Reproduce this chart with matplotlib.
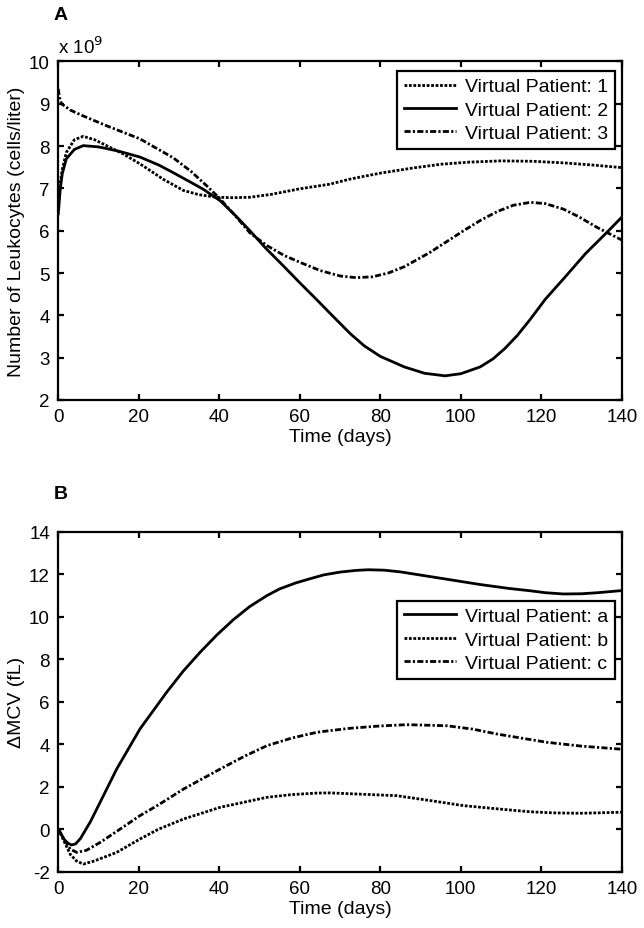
import numpy as np
import matplotlib.pyplot as plt

plt.rcParams['font.family'] = ['Liberation Sans', 'DejaVu Sans']
plt.rcParams['axes.unicode_minus'] = False

# panel A: leukocytes (x 10^9 cells/liter)
t_p1 = [0, 0.5, 1, 2, 4, 6.2, 9, 12, 16, 20.3, 26, 31.1, 35, 39.4, 43.5, 47.6, 53, 60, 67.5, 72.5, 80, 88, 95, 102, 110, 118, 126, 133, 140]
leuk_p1 = [6.6, 7.15, 7.45, 7.85, 8.15, 8.23, 8.15, 8.01, 7.82, 7.58, 7.22, 6.95, 6.85, 6.79, 6.78, 6.79, 6.86, 6.99, 7.10, 7.22, 7.36, 7.48, 7.57, 7.62, 7.65, 7.64, 7.60, 7.55, 7.49]

t_p2 = [0, 0.5, 1, 2, 4, 6.2, 10, 15, 20.3, 25, 28, 32.8, 36, 40.2, 44, 47.6, 51.5, 55.9, 60, 64.2, 67.5, 72.5, 76, 80, 86, 91, 96.1, 100, 104.8, 108, 111, 114, 117.3, 121, 125.5, 131, 136.3, 140]
leuk_p2 = [6.4, 7.0, 7.35, 7.7, 7.92, 8.01, 7.98, 7.88, 7.74, 7.55, 7.40, 7.15, 6.98, 6.71, 6.36, 6.0, 5.59, 5.17, 4.77, 4.37, 4.05, 3.57, 3.28, 3.03, 2.78, 2.63, 2.57, 2.62, 2.78, 2.97, 3.22, 3.52, 3.91, 4.38, 4.86, 5.46, 5.96, 6.32]

t_p3 = [0, 0.3, 0.8, 3, 6, 12, 20.3, 28.6, 33, 37, 40.2, 44, 47.6, 51.8, 56, 60.1, 65, 70, 74, 78, 82, 86, 92.4, 100.7, 105, 109, 113, 117.3, 121, 125.5, 129.5, 133.8, 140]
leuk_p3 = [9.35, 9.15, 9.0, 8.85, 8.72, 8.48, 8.17, 7.72, 7.40, 7.05, 6.75, 6.35, 5.95, 5.65, 5.42, 5.25, 5.06, 4.93, 4.89, 4.91, 5.0, 5.15, 5.49, 6.0, 6.25, 6.45, 6.6, 6.67, 6.64, 6.51, 6.32, 6.08, 5.78]

# panel B: delta MCV (fL)
t_a = [0, 1.5, 2.5, 3.3, 4.3, 5.5, 8, 10.4, 14.5, 20.3, 26.9, 31, 35.2, 39.5, 43.5, 47.5, 51.8, 55, 59, 62.6, 66, 70, 74, 77, 81, 85, 95, 105, 112, 117.3, 121, 125.5, 130, 134, 140]
mcv_a = [0, -0.5, -0.68, -0.75, -0.7, -0.45, 0.35, 1.26, 2.82, 4.71, 6.43, 7.42, 8.31, 9.15, 9.85, 10.46, 10.98, 11.30, 11.58, 11.78, 11.96, 12.09, 12.17, 12.2, 12.18, 12.1, 11.8, 11.5, 11.32, 11.21, 11.12, 11.06, 11.07, 11.12, 11.22]

t_b = [0, 1.5, 3, 4.5, 6.2, 9, 14.5, 20.3, 25, 31.1, 40.2, 51.8, 58, 64.2, 67.5, 72.5, 84, 92, 100.7, 109, 117.3, 123, 129.6, 134, 140]
mcv_b = [0, -0.6, -1.2, -1.5, -1.65, -1.5, -1.10, -0.47, 0.0, 0.47, 1.02, 1.49, 1.62, 1.69, 1.70, 1.66, 1.57, 1.35, 1.10, 0.95, 0.81, 0.76, 0.74, 0.76, 0.79]

t_c = [0, 1.5, 3, 4.6, 7, 10.4, 15, 20.3, 25, 31.1, 40.2, 46, 51.8, 58, 64.2, 67.5, 72.5, 80, 86.6, 96.5, 103, 109, 115, 121.4, 130, 139.6, 140]
mcv_c = [0, -0.5, -0.95, -1.10, -1.0, -0.63, -0.05, 0.63, 1.15, 1.88, 2.82, 3.40, 3.92, 4.28, 4.55, 4.63, 4.74, 4.85, 4.91, 4.86, 4.70, 4.47, 4.28, 4.08, 3.90, 3.76, 3.76]

xticks = [0, 20, 40, 60, 80, 100, 120, 140]

DOT = (1.0, 0.6)
DASHDOT = (2.2, 0.8, 0.8, 0.8)
FS = 14

fig = plt.figure(figsize=(6.44, 9.29), dpi=100)
axA = fig.add_axes([0.0905, 0.5684, 0.875, 0.3644])
axB = fig.add_axes([0.0905, 0.0608, 0.875, 0.366])


def style_axes(ax):
    for s in ax.spines.values():
        s.set_linewidth(1.6)
    ax.tick_params(direction='in', length=4, width=1.6, labelsize=13.5,
                   top=True, right=True, pad=6)
    ax.set_xlim(0, 140)
    ax.set_xticks(xticks)
    ax.set_xlabel('Time (days)', fontsize=FS, labelpad=2)


def add_legend(ax, y_top):
    leg = ax.legend(loc='upper right', bbox_to_anchor=(0.988, y_top), borderaxespad=0,
                    fontsize=FS, handlelength=2.7, handletextpad=0.45, labelspacing=0.3,
                    borderpad=0.35, fancybox=False, framealpha=1, edgecolor='k')
    leg.get_frame().set_linewidth(1.6)
    return leg


lw = 2.0
axA.plot(t_p1, leuk_p1, color='k', lw=lw, dashes=DOT, label='Virtual Patient: 1')
axA.plot(t_p2, leuk_p2, color='k', lw=lw, label='Virtual Patient: 2')
axA.plot(t_p3, leuk_p3, color='k', lw=lw, dashes=DASHDOT, label='Virtual Patient: 3')
style_axes(axA)
axA.set_ylim(2, 10)
axA.set_yticks(range(2, 11))
axA.set_ylabel('Number of Leukocytes (cells/liter)', fontsize=FS, labelpad=3)
axA.text(0.0, 1.012, 'x 10$^9$', transform=axA.transAxes, fontsize=13.5,
         ha='left', va='bottom')
add_legend(axA, 0.972)

axB.plot(t_a, mcv_a, color='k', lw=lw, label='Virtual Patient: a')
axB.plot(t_b, mcv_b, color='k', lw=lw, dashes=DOT, label='Virtual Patient: b')
axB.plot(t_c, mcv_c, color='k', lw=lw, dashes=DASHDOT, label='Virtual Patient: c')
style_axes(axB)
axB.set_ylim(-2, 14)
axB.set_yticks(range(-2, 15, 2))
axB.set_ylabel('\u0394MCV (fL)', fontsize=FS, labelpad=3)
add_legend(axB, 0.796)

fig.text(54 / 644, 1 - 16 / 929, 'A', fontsize=FS, fontweight='bold', va='center')
fig.text(54 / 644, 1 - 495 / 929, 'B', fontsize=FS, fontweight='bold', va='center')

fig.savefig('out.png', dpi=100)
